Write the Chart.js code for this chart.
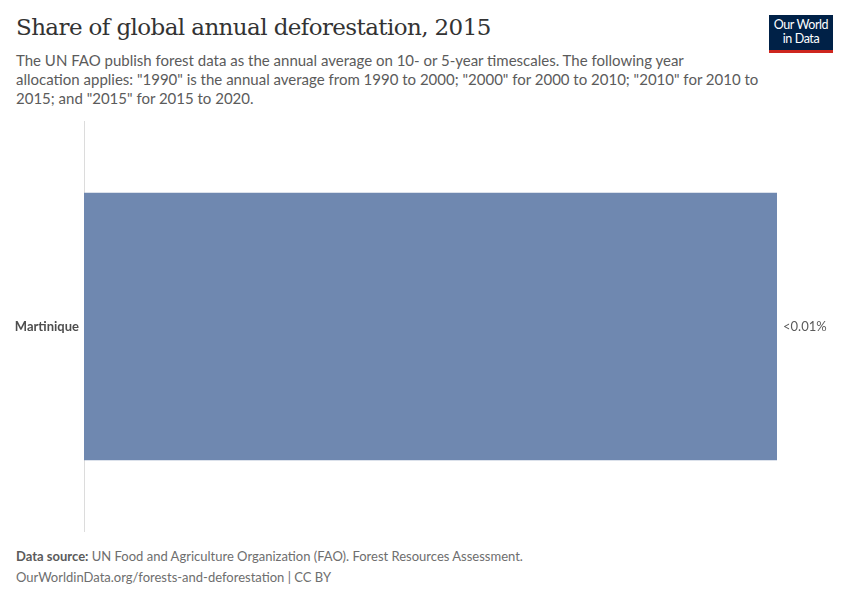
<!DOCTYPE html>
<html>
<head>
<meta charset="utf-8">
<script src="https://cdn.jsdelivr.net/npm/chart.js@4/dist/chart.umd.min.js"></script>
<style>
  html, body { margin:0; padding:0; background:#fff; }
  body { width:850px; height:600px; position:relative; overflow:hidden; font-family:Lato, "Noto Sans", sans-serif; }
  #title { position:absolute; left:16px; top:14px; font-family:"DejaVu Serif", "Liberation Serif", serif; font-size:23px; color:#333; letter-spacing:-0.6px; }
  #subtitle { position:absolute; left:16px; top:51px; font-size:15px; line-height:19px; color:#5b5b5b; }
  #logo { position:absolute; left:769px; top:15px; width:64px; height:35px; background:#002147; color:#fff; font-size:12.5px; line-height:14px; text-align:center; box-sizing:border-box; padding-top:3px; letter-spacing:-0.4px; }
  #logo .bar { position:absolute; left:0; bottom:-3px; width:64px; height:3px; background:#ce261e; }
  #wrap { position:absolute; left:0; top:109px; width:850px; height:435px; }
  #footer { position:absolute; left:16px; top:546px; font-size:13px; line-height:21px; color:#6e6e6e; }
  #footer b { color:#5b5b5b; }
</style>
</head>
<body>
<div id="title">Share of global annual deforestation, 2015</div>
<div id="subtitle">The UN FAO publish forest data as the annual average on 10- or 5-year timescales. The following year<br>allocation applies: "1990" is the annual average from 1990 to 2000; "2000" for 2000 to 2010; "2010" for 2010 to<br>2015; and "2015" for 2015 to 2020.</div>
<div id="logo">Our World<br>in Data<div class="bar"></div></div>
<div id="wrap"><canvas id="chart"></canvas></div>
<div id="footer"><b>Data source:</b> UN Food and Agriculture Organization (FAO). Forest Resources Assessment.<br>OurWorldinData.org/forests-and-deforestation | CC BY</div>

<script>
/* ======= Dados ======= */
const countries = ['Martinique'];
const shares = [0.004];          // % do desmatamento global (muito pequeno)
const valueLabels = ['<0.01%'];

/* ======= Rótulo no fim da barra ======= */
const endLabels = {
  id: 'endLabels',
  afterDatasetsDraw(chart) {
    const ctx = chart.ctx;
    const meta = chart.getDatasetMeta(0);
    ctx.save();
    ctx.font = '13px Lato, sans-serif';
    ctx.fillStyle = '#5b5b5b';
    ctx.textBaseline = 'middle';
    ctx.textAlign = 'left';
    meta.data.forEach((bar, i) => {
      ctx.fillText(valueLabels[i], bar.x + 6, bar.y);
    });
    ctx.restore();
  }
};

new Chart(document.getElementById('chart'), {
  type: 'bar',
  data: {
    labels: countries,
    datasets: [{
      data: shares,
      backgroundColor: '#6f88b0',
      borderWidth: 0,
      barPercentage: 0.653,
      categoryPercentage: 1
    }]
  },
  options: {
    indexAxis: 'y',
    responsive: true,
    maintainAspectRatio: false,
    animation: false,
    layout: { padding: { left: 0, right: 73, top: 0, bottom: 0 } },
    plugins: { legend: { display: false }, tooltip: { enabled: false } },
    scales: {
      x: { display: false, min: 0, max: shares[0] },
      y: {
        grid: { display: false, drawTicks: false },
        border: { display: true, color: '#dcdcdc', width: 1 },
        ticks: { color: '#4e4e4e', padding: 5, font: { family: 'Lato', size: 13, weight: 'bold' } },
        afterFit(scale) { scale.width = 84; }
      }
    }
  },
  plugins: [endLabels]
});
</script>
</body>
</html>
